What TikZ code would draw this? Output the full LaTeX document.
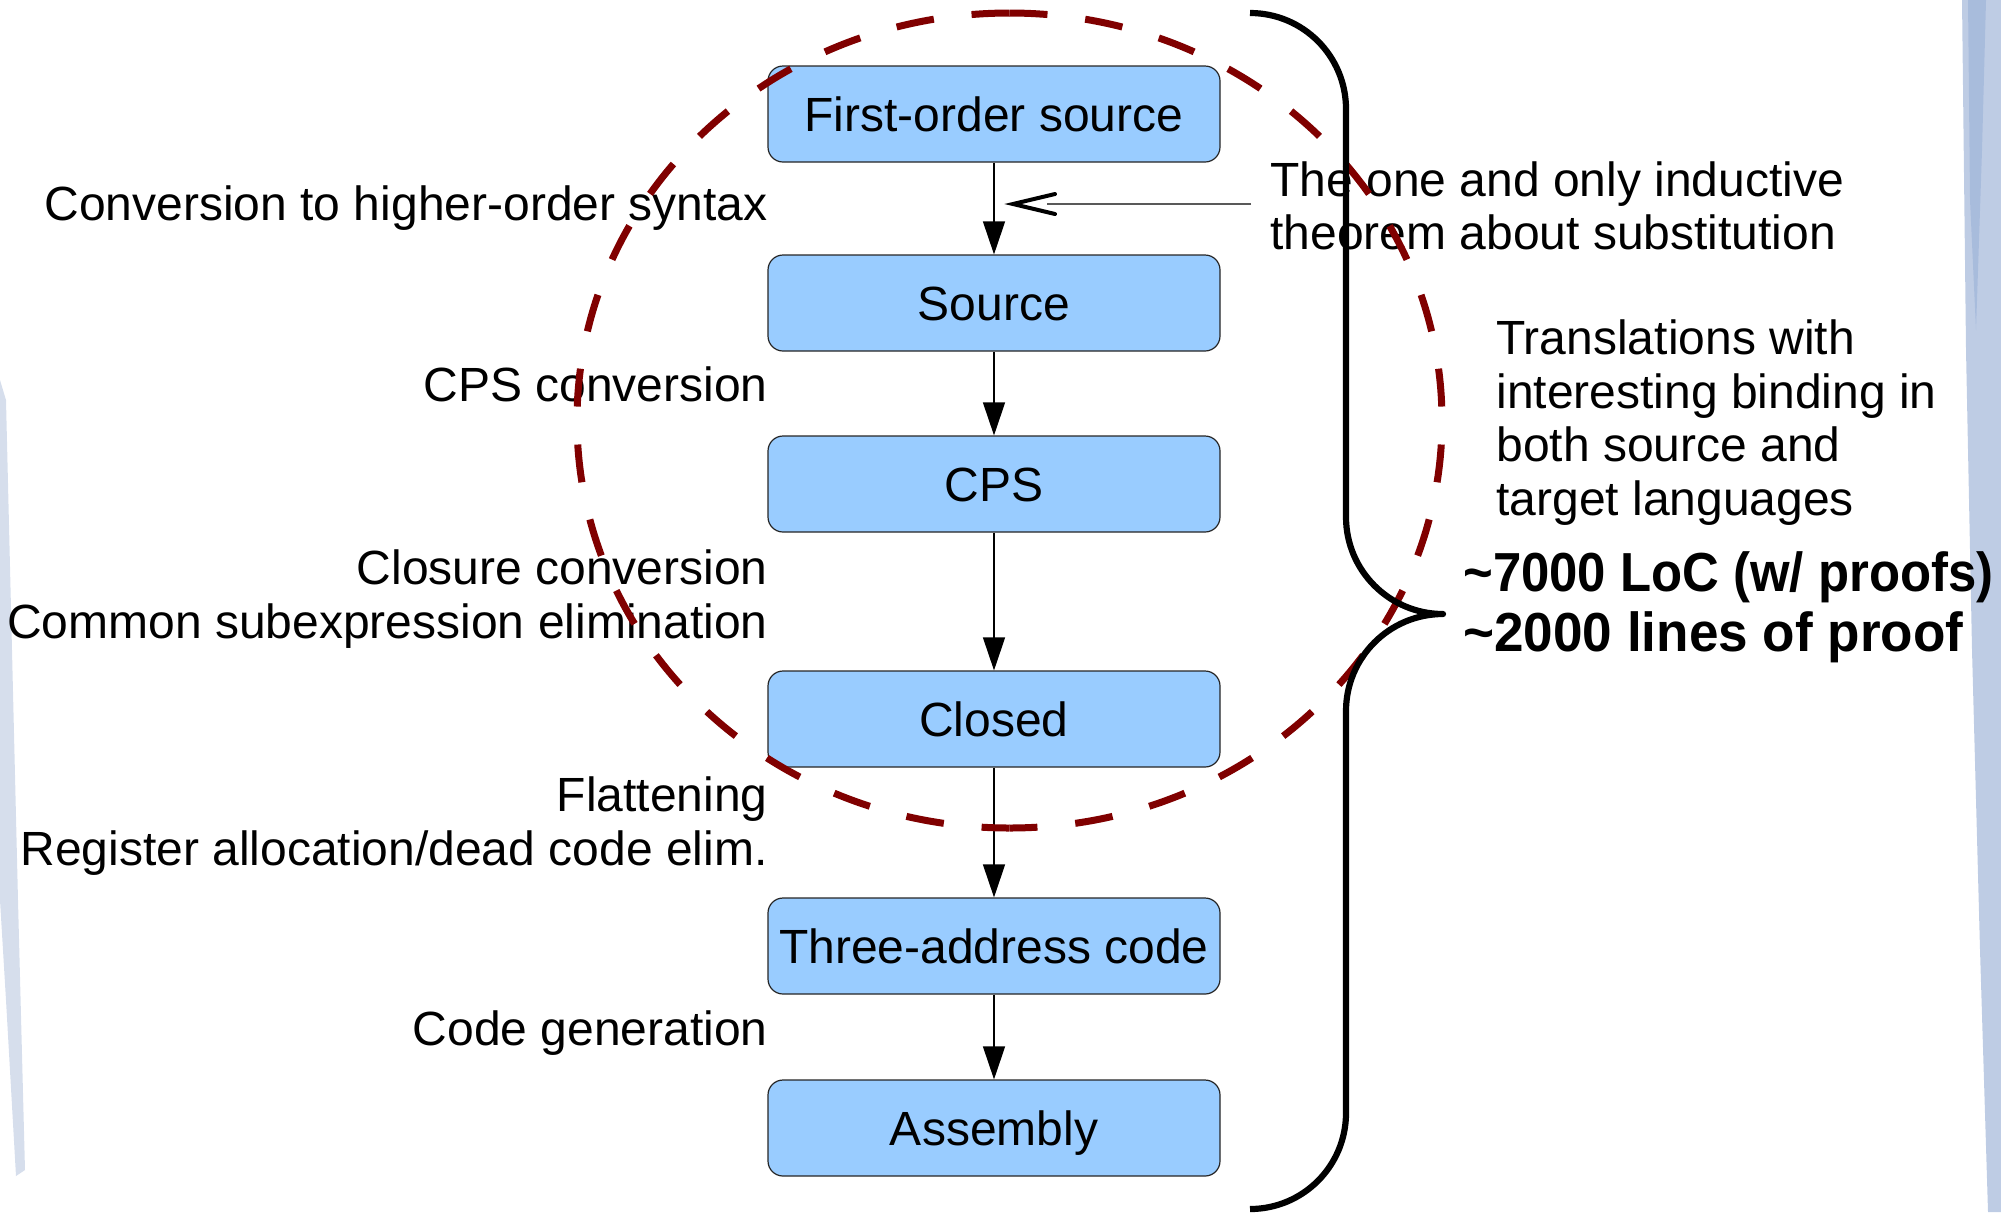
\documentclass[tikz,border=0pt]{standalone}
\usepackage{fontspec}
\setmainfont{Liberation Sans}
\newfontface\locfontA[FakeStretch=0.925]{Liberation Sans Bold}
\newfontface\locfontB[FakeStretch=0.965]{Liberation Sans Bold}
\usetikzlibrary{arrows.meta}
\definecolor{boxfill}{HTML}{99CCFF}
\definecolor{ringred}{HTML}{800000}
\definecolor{streaklight}{RGB}{214,222,236}
\definecolor{streakmid}{RGB}{190,204,228}
\definecolor{streakdark}{RGB}{160,182,218}

\begin{document}
\begin{tikzpicture}[x=0.5pt,y=-0.5pt,
  stage/.style={draw=black!85, line width=0.6pt, fill=boxfill, rounded corners=7.5pt,
    minimum width=226pt, minimum height=48pt, inner sep=0pt,
    text height=17pt, text depth=0pt, font=\fontsize{24}{27}\selectfont},
  lbl/.style={inner sep=0pt, font=\fontsize{24}{27}\selectfont},
  bigA/.style={inner sep=0pt, font=\fontsize{27.5}{31}\locfontA},
  bigB/.style={inner sep=0pt, font=\fontsize{27.5}{31}\locfontB},
  flow/.style={line width=0.65pt, -{Triangle[length=16.5pt,width=11pt]}},
  pointer/.style={line width=0.6pt, draw=black!65, shorten >=17pt},
  barb/.style={draw=black, line width=2pt, line join=miter, line cap=round},
  ring/.style={draw=ringred, line width=3.5pt, dash pattern=on 19pt off 19pt},
  bracket/.style={draw=black, line width=3.1pt, line join=round}
]
\useasboundingbox (0,0) rectangle (2001,1212);

% soft brush strokes at the page edges
\fill[streakmid] (1962,0) -- (2001,0) -- (2001,1212) -- (1988,1212)
  -- (1980,950) -- (1972,650) -- (1966,350) -- cycle;
\fill[streakdark, opacity=0.7] (1968,0) -- (1986,0) -- (1982,150)
  -- (1976,330) -- (1970,200) -- cycle;
\fill[streaklight] (0,380) -- (6,400) -- (12,650) -- (18,900)
  -- (25,1170) -- (16,1176) -- (6,1000) -- (0,900) -- cycle;

% compilation stages
\node[stage] (fo)  at (994,114)  {First-order source};
\node[stage] (src) at (994,303)  {Source};
\node[stage] (cps) at (994,484)  {CPS};
\node[stage] (cl)  at (994,719)  {Closed};
\node[stage] (tac) at (994,946)  {Three-address code};
\node[stage] (asm) at (994,1128) {Assembly};

\draw[flow] (fo.south)  -- (src.north);
\draw[flow] (src.south) -- (cps.north);
\draw[flow] (cps.south) -- (cl.north);
\draw[flow] (cl.south)  -- (tac.north);
\draw[flow] (tac.south) -- (asm.north);

% pass names
\node[lbl, anchor=base east] (p1)  at (768,220)  {Conversion to higher-order syntax};
\node[lbl, anchor=base east] (p2)  at (768,401)  {CPS conversion};
\node[lbl, anchor=base east] (p3a) at (768,584)  {Closure conversion};
\node[lbl, anchor=base east] (p3b) at (768,638)  {Common subexpression elimination};
\node[lbl, anchor=base east] (p4a) at (768,811)  {Flattening};
\node[lbl, anchor=base east] (p4b) at (768,865)  {Register allocation/dead code elim.};
\node[lbl, anchor=base east] (p5)  at (768,1045) {Code generation};

% notes on the right
\node[lbl, anchor=base west] (thmA) at (1270,196) {The one and only inductive};
\node[lbl, anchor=base west] (thmB) at (1270,249) {theorem about substitution};

\node[lbl, anchor=base west] (trA) at (1496,354) {Translations with};
\node[lbl, anchor=base west] (trB) at (1496,408) {interesting binding in};
\node[lbl, anchor=base west] (trC) at (1496,461) {both source and};
\node[lbl, anchor=base west] (trD) at (1496,515) {target languages};

\node[bigA, anchor=base west] (locA) at (1463,591) {\textasciitilde 7000 LoC (w/ proofs)};
\node[bigB, anchor=base west] (locB) at (1463,651) {\textasciitilde 2000 lines of proof};

% dashed region around the binding-heavy stages
\draw[ring] (1009.5,13) arc[start angle=90, end angle=270, x radius=216.25pt, y radius=203.75pt];
\draw[ring] (1009.5,13) arc[start angle=90, end angle=-90, x radius=216.25pt, y radius=203.75pt];

% brace spanning the whole pipeline
\draw[bracket] (1250,13) arc[start angle=90, end angle=0, radius=48pt]
  -- (1346,517) arc[start angle=180, end angle=270, radius=48.5pt]
  arc[start angle=90, end angle=180, radius=48.5pt]
  -- (1346,1113) arc[start angle=0, end angle=-90, radius=48pt];

% pointer to the first translation, with an open "<" head
\coordinate (thmfrom) at (1251,204);
\coordinate (thmtip) at (1013,204);
\draw[pointer] (thmfrom) -- (thmtip);
\draw[barb] ([xshift=21pt,yshift=5pt]thmtip) -- (thmtip) -- ([xshift=21pt,yshift=-5pt]thmtip);
\end{tikzpicture}
\end{document}
